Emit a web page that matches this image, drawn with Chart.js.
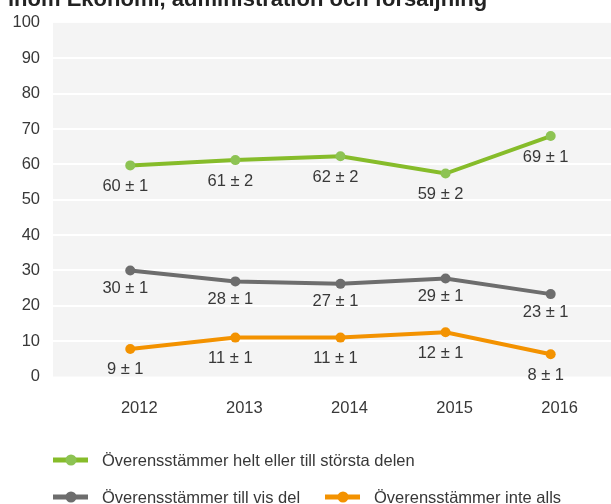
<!DOCTYPE html>
<html>
<head>
<meta charset="utf-8">
<script src="https://cdn.jsdelivr.net/npm/chart.js@4.4.1/dist/chart.umd.min.js"></script>
<style>
    body { margin: 0; background: #fff; }
    #chart { display: block; }
</style>
</head>
<body>
<canvas id="chart" width="611" height="504"></canvas>
<script>
// Data
const years = [2012, 2013, 2014, 2015, 2016];
const heltValues = [59.7, 61.2, 62.3, 57.4, 68.0];
const visDelValues = [30.0, 26.9, 26.2, 27.7, 23.3];
const inteAllsValues = [7.8, 11.0, 11.0, 12.5, 6.3];
const heltLabels = ["60 ± 1", "61 ± 2", "62 ± 2", "59 ± 2", "69 ± 1"];
const visDelLabels = ["30 ± 1", "28 ± 1", "27 ± 1", "29 ± 1", "23 ± 1"];
const inteAllsLabels = ["9 ± 1", "11 ± 1", "11 ± 1", "12 ± 1", "8 ± 1"];
const yTicks = [0, 10, 20, 30, 40, 50, 60, 70, 80, 90, 100];

const titleText = "inom Ekonomi, administration och försäljning";
const FONT = "'Liberation Sans', Arial, Helvetica, sans-serif";
const TEXT_COLOR = "#383838";

const toPoints = values => values.map((v, i) => ({ x: years[i], y: v }));

// Grey plot background
const plotBackground = {
    id: "plotBackground",
    beforeDraw(chart) {
        const { ctx, chartArea: a } = chart;
        ctx.save();
        ctx.fillStyle = "#f4f4f4";
        ctx.fillRect(a.left, a.top, a.right - a.left, a.bottom - a.top);
        ctx.restore();
    }
};

// "60 ± 1" style labels under each point
const pointLabels = {
    id: "pointLabels",
    afterDatasetsDraw(chart) {
        const ctx = chart.ctx;
        ctx.save();
        ctx.font = `16.5px ${FONT}`;
        ctx.fillStyle = TEXT_COLOR;
        ctx.textAlign = "center";
        ctx.textBaseline = "middle";
        chart.data.datasets.forEach((ds, i) => {
            chart.getDatasetMeta(i).data.forEach((pt, j) => {
                ctx.fillText(ds.valueLabels[j], pt.x - 5, pt.y + ds.labelOffset);
            });
        });
        ctx.restore();
    }
};

// Title, cut off at the top like the original
const cutTitle = {
    id: "cutTitle",
    afterDraw(chart) {
        const ctx = chart.ctx;
        ctx.save();
        ctx.font = `bold 22px ${FONT}`;
        ctx.fillStyle = "#222";
        ctx.textBaseline = "alphabetic";
        ctx.fillText(titleText, 8, 6);
        ctx.restore();
    }
};

// Legend: line with a dot, then the label
const customLegend = {
    id: "customLegend",
    afterDraw(chart) {
        const ctx = chart.ctx;
        const spots = [[53, 460], [53, 497], [325, 497]];
        ctx.save();
        ctx.font = `16.5px ${FONT}`;
        ctx.textBaseline = "middle";
        chart.data.datasets.forEach((ds, i) => {
            const [x, y] = spots[i];
            ctx.strokeStyle = ds.borderColor;
            ctx.lineWidth = 5;
            ctx.beginPath();
            ctx.moveTo(x, y);
            ctx.lineTo(x + 35, y);
            ctx.stroke();
            ctx.fillStyle = ds.pointBackgroundColor;
            ctx.beginPath();
            ctx.arc(x + 18, y, 5.5, 0, Math.PI * 2);
            ctx.fill();
            ctx.fillStyle = TEXT_COLOR;
            ctx.fillText(ds.label, x + 49, y + 1);
        });
        ctx.restore();
    }
};

const ctx = document.getElementById("chart").getContext("2d");
new Chart(ctx, {
    type: "line",
    data: {
        datasets: [
            {
                label: "Överensstämmer helt eller till största delen",
                data: toPoints(heltValues),
                valueLabels: heltLabels,
                labelOffset: 21,
                borderColor: "#86bc2a",
                pointBackgroundColor: "#8dc353"
            },
            {
                label: "Överensstämmer till vis del",
                data: toPoints(visDelValues),
                valueLabels: visDelLabels,
                labelOffset: 18,
                borderColor: "#6d6d6d",
                pointBackgroundColor: "#6d6d6d"
            },
            {
                label: "Överensstämmer inte alls",
                data: toPoints(inteAllsValues),
                valueLabels: inteAllsLabels,
                labelOffset: 21,
                borderColor: "#f39200",
                pointBackgroundColor: "#f39200"
            }
        ].map(ds => ({
            ...ds,
            borderWidth: 4,
            pointRadius: 5,
            pointHoverRadius: 5,
            pointBorderWidth: 0,
            tension: 0,
            fill: false
        }))
    },
    options: {
        responsive: false,
        animation: false,
        events: [],
        layout: { autoPadding: false, padding: { top: 18.5, left: 0, right: 0, bottom: 0 } },
        scales: {
            x: {
                type: "linear",
                min: 2011.265,
                max: 2016.574,
                afterBuildTicks: scale => { scale.ticks = years.map(v => ({ value: v })); },
                afterFit: scale => {
                    scale.height = 127.5;
                    scale.paddingLeft = 0;
                    scale.paddingRight = 0;
                },
                grid: { display: false, drawTicks: false },
                border: { display: false },
                ticks: {
                    padding: 22,
                    labelOffset: 9,
                    color: TEXT_COLOR,
                    font: { family: FONT, size: 16.5 },
                    callback: v => String(v)
                }
            },
            y: {
                min: 0,
                max: 100,
                afterBuildTicks: scale => { scale.ticks = yTicks.map(v => ({ value: v })); },
                afterFit: scale => { scale.width = 53; },
                grid: {
                    drawTicks: false,
                    lineWidth: 2,
                    color: c => (c.tick && (c.tick.value === 0 || c.tick.value === 100)) ? "rgba(0,0,0,0)" : "#ffffff"
                },
                border: { display: false },
                ticks: {
                    padding: 13,
                    color: TEXT_COLOR,
                    font: { family: FONT, size: 16.5 }
                }
            }
        },
        plugins: {
            legend: { display: false },
            tooltip: { enabled: false }
        }
    },
    plugins: [plotBackground, pointLabels, cutTitle, customLegend]
});
</script>
</body>
</html>
